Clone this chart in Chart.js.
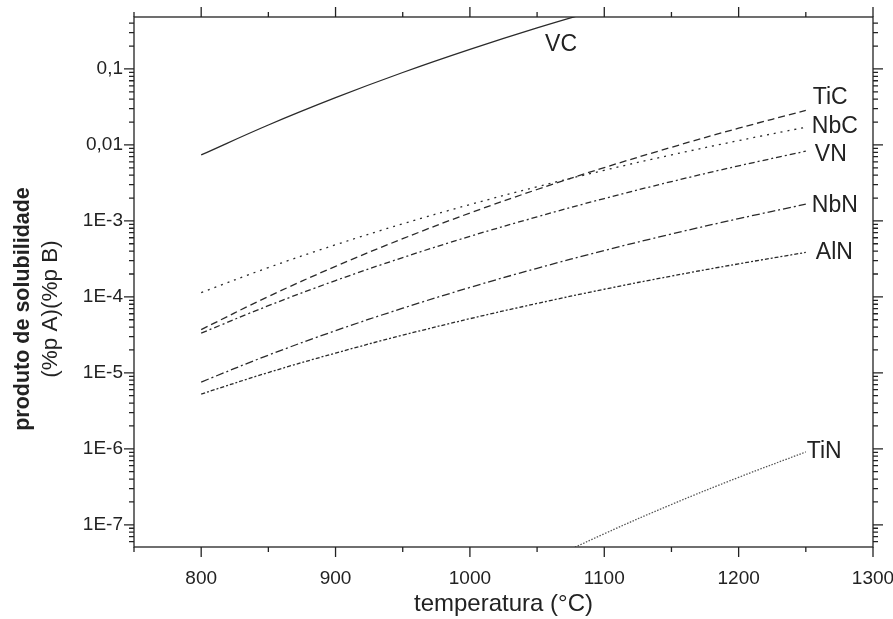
<!DOCTYPE html>
<html>
<head>
<meta charset="utf-8">
<title>produto de solubilidade</title>
<script src="https://cdn.jsdelivr.net/npm/chart.js@4.4.1/dist/chart.umd.min.js"></script>
<style>
    html, body { margin: 0; padding: 0; background: #fff; }
    canvas { display: block; }
</style>
</head>
<body>
<canvas id="chart" width="893" height="619"></canvas>
<script>
// Temperatures (°C) where the curves were read
const temps = [800, 850, 900, 950, 1000, 1050, 1100, 1150, 1200, 1250];
const tinTemps = [1050, 1100, 1150, 1200, 1250];

// Solubility products
const vcValues  = [0.00738, 0.0183, 0.0419, 0.0898, 0.181, 0.347, 0.634];
const ticValues = [3.71e-5, 1.01e-4, 2.52e-4, 5.83e-4, 1.27e-3, 2.59e-3, 5.03e-3, 9.32e-3, 0.0166, 0.0284];
const nbcValues = [1.14e-4, 2.43e-4, 4.85e-4, 9.15e-4, 1.64e-3, 2.81e-3, 4.64e-3, 7.39e-3, 0.0114, 0.0171];
const vnValues  = [3.33e-5, 7.65e-5, 1.64e-4, 3.29e-4, 6.26e-4, 1.13e-3, 1.97e-3, 3.29e-3, 5.30e-3, 8.28e-3];
const nbnValues = [7.57e-6, 1.71e-5, 3.59e-5, 7.09e-5, 1.33e-4, 2.38e-4, 4.07e-4, 6.72e-4, 1.07e-3, 1.66e-3];
const alnValues = [5.26e-6, 1.01e-5, 1.82e-5, 3.13e-5, 5.16e-5, 8.19e-5, 1.26e-4, 1.88e-4, 2.72e-4, 3.85e-4];
const tinValues = [2.94e-8, 7.62e-8, 1.85e-7, 4.21e-7, 9.10e-7];

// Axis ticks
const xTicks = [800, 900, 1000, 1100, 1200, 1300];
const yTickValues = [1e-7, 1e-6, 1e-5, 1e-4, 1e-3, 0.01, 0.1];
const yTickLabels = ['1E-7', '1E-6', '1E-5', '1E-4', '1E-3', '0,01', '0,1'];

const FONT = "'Liberation Sans', Arial, sans-serif";
const INK = '#222';

function toPoints(xs, ys) {
    return ys.map((y, i) => ({ x: xs[i], y: y }));
}

function series(label, xs, ys, dash, color) {
    return {
        label: label,
        data: toPoints(xs, ys),
        borderColor: color || '#2a2a2a',
        borderWidth: 1.3,
        borderDash: dash,
        pointRadius: 0,
        tension: 0.4,
        fill: false
    };
}

// Curve name labels: which dataset/point to hang them on, plus pixel offset
const curveLabels = [
    { text: 'VC',  ds: 0, pt: 5, dx: 8, dy: 17 },
    { text: 'TiC', ds: 1, pt: 9, dx: 7, dy: -13 },
    { text: 'NbC', ds: 2, pt: 9, dx: 6, dy: -1 },
    { text: 'VN',  ds: 3, pt: 9, dx: 9, dy: 3 },
    { text: 'NbN', ds: 4, pt: 9, dx: 6, dy: 1 },
    { text: 'AlN', ds: 5, pt: 9, dx: 10, dy: 0 },
    { text: 'TiN', ds: 6, pt: 4, dx: 1, dy: 0 }
];

// Frame, mirrored ticks, titles and curve labels
const decorPlugin = {
    id: 'decor',
    afterDraw(chart) {
        const { ctx, chartArea: a, scales } = chart;
        const xs = scales.x, ys = scales.y;
        ctx.save();
        ctx.strokeStyle = INK;
        ctx.lineWidth = 1.3;
        ctx.strokeRect(a.left, a.top, a.right - a.left, a.bottom - a.top);

        ctx.beginPath();
        // x ticks every 50, major every 100
        for (let t = 750; t <= 1300; t += 50) {
            const px = xs.getPixelForValue(t);
            const len = t % 100 === 0 ? 10 : 5;
            ctx.moveTo(px, a.bottom); ctx.lineTo(px, a.bottom + len);
            ctx.moveTo(px, a.top); ctx.lineTo(px, a.top - len);
        }
        // y ticks: decades major, 2..9 minor
        for (let e = -8; e <= 0; e++) {
            for (let m = 1; m <= 9; m++) {
                const v = m * Math.pow(10, e);
                if (v < ys.min || v > ys.max) continue;
                const py = ys.getPixelForValue(v);
                const len = m === 1 ? 10 : 5;
                ctx.moveTo(a.left, py); ctx.lineTo(a.left - len, py);
                ctx.moveTo(a.right, py); ctx.lineTo(a.right + len, py);
            }
        }
        ctx.stroke();

        // axis titles
        ctx.fillStyle = INK;
        ctx.textAlign = 'center';
        ctx.textBaseline = 'middle';
        ctx.font = '24px ' + FONT;
        ctx.fillText('temperatura (°C)', (a.left + a.right) / 2, 604);

        ctx.save();
        ctx.translate(23, 309);
        ctx.rotate(-Math.PI / 2);
        ctx.font = 'bold 21.5px ' + FONT;
        ctx.fillText('produto de solubilidade', 0, 0);
        ctx.font = '22.5px ' + FONT;
        ctx.fillText('(%p A)(%p B)', 0, 28);
        ctx.restore();

        // curve labels
        ctx.textAlign = 'left';
        ctx.font = '23px ' + FONT;
        curveLabels.forEach(l => {
            const p = chart.data.datasets[l.ds].data[l.pt];
            const px = xs.getPixelForValue(p.x) + l.dx;
            const py = ys.getPixelForValue(p.y) + l.dy;
            ctx.fillText(l.text, px, py);
        });
        ctx.restore();
    }
};

const canvas = document.getElementById('chart');
const ctx = canvas.getContext('2d');

new Chart(ctx, {
    type: 'line',
    data: {
        datasets: [
            series('VC', temps, vcValues, []),
            series('TiC', temps, ticValues, [7, 4]),
            series('NbC', temps, nbcValues, [2, 5]),
            series('VN', temps, vnValues, [6, 3, 2, 3]),
            series('NbN', temps, nbnValues, [8, 3, 2, 3]),
            series('AlN', temps, alnValues, [4, 2, 2, 2]),
            series('TiN', tinTemps, tinValues, [1.5, 1.5], '#555')
        ]
    },
    options: {
        responsive: false,
        animation: false,
        devicePixelRatio: 1,
        layout: {
            padding: { top: 17, right: 20, left: 0, bottom: 0 }
        },
        plugins: {
            legend: { display: false },
            tooltip: { enabled: false }
        },
        scales: {
            x: {
                type: 'linear',
                min: 750,
                max: 1300,
                grid: { display: false, drawTicks: false },
                border: { display: false },
                afterFit: (scale) => {
                    scale.height = 72;
                    scale.paddingLeft = 0;
                    scale.paddingRight = 0;
                },
                afterBuildTicks: (scale) => {
                    scale.ticks = xTicks.map(v => ({ value: v }));
                },
                ticks: {
                    autoSkip: false,
                    maxRotation: 0,
                    padding: 20,
                    color: INK,
                    font: { family: FONT, size: 19 },
                    callback: (value) => String(value)
                }
            },
            y: {
                type: 'logarithmic',
                min: 5.1e-8,
                max: 0.483,
                grid: { display: false, drawTicks: false },
                border: { display: false },
                afterFit: (scale) => {
                    scale.width = 134;
                    scale.paddingTop = 0;
                    scale.paddingBottom = 0;
                },
                afterBuildTicks: (scale) => {
                    scale.ticks = yTickValues.map(v => ({ value: v }));
                },
                ticks: {
                    autoSkip: false,
                    padding: 11,
                    color: INK,
                    font: { family: FONT, size: 19 },
                    callback: (value, index) => yTickLabels[index]
                }
            }
        }
    },
    plugins: [decorPlugin]
});
</script>
</body>
</html>
